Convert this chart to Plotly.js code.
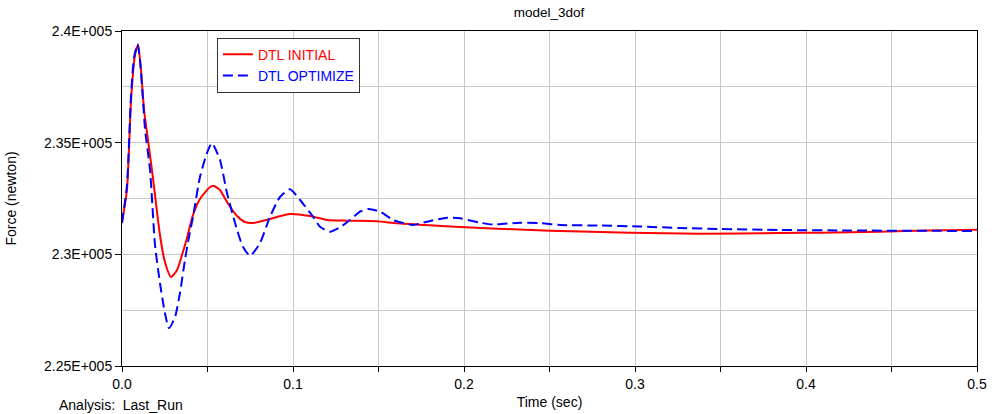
<!DOCTYPE html>
<html>
<head>
<meta charset="utf-8">
<script src="https://cdn.plot.ly/plotly-3.0.1.min.js"></script>
<style>html,body{margin:0;padding:0;background:#fff;}#chart{width:992px;height:414px;}</style>
</head>
<body>
<div id="chart"></div>
<script>
// DTL INITIAL (red)
var timeInitial = [0, 0.0029, 0.0053, 0.0076, 0.0094, 0.0111, 0.0129, 0.0152, 0.0181, 0.0222, 0.0251, 0.0287, 0.0322, 0.0351, 0.038, 0.0415, 0.0456, 0.0515, 0.0538, 0.0573, 0.0614, 0.0673, 0.0719, 0.0766, 0.0865, 0.0982, 0.1099, 0.1199, 0.1316, 0.1491, 0.1608, 0.1801, 0.1977, 0.2287, 0.2503, 0.2971, 0.338, 0.3848, 0.408, 0.443, 0.4725, 0.5];
var forceInitial = [231448, 232881, 236910, 238925, 239373, 238254, 236463, 235120, 233418, 230866, 229657, 228985, 229299, 229970, 230731, 231761, 232478, 233015, 233060, 232881, 232343, 231716, 231448, 231403, 231582, 231806, 231716, 231537, 231506, 231479, 231390, 231300, 231224, 231121, 231058, 230969, 230924, 230955, 230969, 231013, 231067, 231103];

// DTL OPTIMIZE (blue dashed)
var timeOptimize = [0, 0.0029, 0.0053, 0.007, 0.0091, 0.0105, 0.0123, 0.0135, 0.0164, 0.0193, 0.0222, 0.0251, 0.0275, 0.031, 0.0339, 0.0368, 0.0386, 0.0415, 0.0456, 0.0497, 0.0526, 0.0573, 0.0614, 0.0673, 0.0708, 0.0749, 0.0807, 0.0865, 0.0924, 0.0982, 0.1041, 0.1117, 0.1158, 0.1216, 0.1275, 0.1333, 0.1392, 0.1439, 0.1509, 0.1585, 0.1667, 0.1702, 0.1784, 0.1901, 0.1977, 0.2094, 0.217, 0.2327, 0.2444, 0.2561, 0.2795, 0.3029, 0.3263, 0.3497, 0.3848, 0.4257, 0.5];
var forceOptimize = [231403, 233105, 237134, 238791, 239418, 238702, 236910, 235567, 233776, 230418, 228716, 227373, 226701, 227194, 228269, 229746, 230552, 231672, 233463, 234537, 234972, 234224, 232746, 231090, 230328, 229939, 230507, 231672, 232567, 232912, 232433, 231685, 231237, 231013, 231210, 231537, 231909, 232030, 231909, 231537, 231358, 231313, 231461, 231640, 231613, 231416, 231336, 231416, 231403, 231313, 231291, 231246, 231179, 231134, 231090, 231067, 231045];

var yTickVals = [225000, 230000, 235000, 240000];
var yTickText = ['2.25E+005', '2.3E+005', '2.35E+005', '2.4E+005'];

var FONT = '"Liberation Sans", Arial, sans-serif';

var traces = [
  {
    x: timeInitial, y: forceInitial, type: 'scatter', mode: 'lines',
    name: '<span style="color:#ff0000">DTL INITIAL</span>',
    line: {color: '#ff0000', width: 2, shape: 'spline', smoothing: 0.6}
  },
  {
    x: timeOptimize, y: forceOptimize, type: 'scatter', mode: 'lines',
    name: '<span style="color:#0000ff">DTL OPTIMIZE</span>',
    line: {color: '#0000ff', width: 2, dash: '10px,5px', shape: 'spline', smoothing: 0.6}
  }
];

var layout = {
  width: 992, height: 414,
  margin: {l: 122, r: 15, t: 31, b: 48},
  paper_bgcolor: '#ffffff', plot_bgcolor: '#ffffff',
  font: {family: FONT, size: 14, color: '#000000'},
  title: {text: 'model_3dof', font: {family: FONT, size: 13.5, color: '#000000'}, x: 0.5535, xanchor: 'center', y: 0.971, yanchor: 'middle'},
  showlegend: true,
  legend: {
    x: 0.111, y: 0.98, xanchor: 'left', yanchor: 'top',
    bgcolor: '#ffffff', bordercolor: '#333333', borderwidth: 1,
    font: {family: FONT, size: 14}, tracegroupgap: 0, itemwidth: 30
  },
  xaxis: {
    range: [0, 0.5], dtick: 0.1, tick0: 0, tickformat: '.1f',
    ticks: 'outside', ticklen: 5, tickcolor: '#000000',
    showline: true, linecolor: '#000000', linewidth: 1, mirror: true,
    showgrid: true, gridcolor: '#c8c8c8', gridwidth: 1, zeroline: false,
    minor: {dtick: 0.05, tick0: 0, ticks: 'outside', ticklen: 5, tickcolor: '#000000', showgrid: true, gridcolor: '#c8c8c8', gridwidth: 1},
    title: {text: 'Time (sec)', font: {family: FONT, size: 14}, standoff: 6},
    tickfont: {family: FONT, size: 14}
  },
  yaxis: {
    range: [225000, 240000], tickvals: yTickVals, ticktext: yTickText,
    ticks: 'outside', ticklen: 6, tickcolor: '#000000',
    showline: true, linecolor: '#000000', linewidth: 1, mirror: true,
    showgrid: true, gridcolor: '#c8c8c8', gridwidth: 1, zeroline: false,
    minor: {dtick: 2500, tick0: 225000, ticks: '', showgrid: true, gridcolor: '#c8c8c8', gridwidth: 1},
    title: {text: 'Force (newton)', font: {family: FONT, size: 14}, standoff: 24},
    tickfont: {family: FONT, size: 14}
  },
  annotations: [
    {text: 'Analysis:  Last_Run', xref: 'paper', yref: 'paper', x: -0.076, y: -0.117, xanchor: 'left', yanchor: 'middle', showarrow: false, font: {family: FONT, size: 14}}
  ]
};

Plotly.newPlot('chart', traces, layout, {displayModeBar: false, responsive: false});
</script>
</body>
</html>
